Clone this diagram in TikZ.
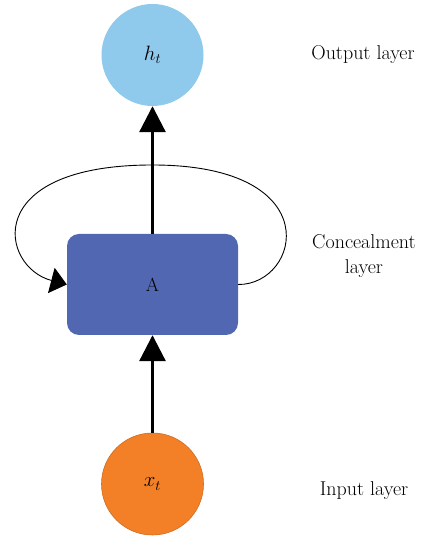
\documentclass[tikz,border=0pt]{standalone}
\usepackage{fontspec}
\usepackage{amsmath}
\usetikzlibrary{arrows.meta}
\definecolor{outblue}{RGB}{143,201,235}
\definecolor{boxblue}{RGB}{81,103,178}
\definecolor{inorange}{RGB}{243,128,38}

\begin{document}
\begin{tikzpicture}[x=1pt,y=1pt,
  unit/.style={circle,minimum size=102pt,inner sep=0pt,font=\fontsize{20}{24}\selectfont},
  lbl/.style={align=center,font=\fontsize{20}{25}\selectfont},
  bigtip/.style={-{Triangle[length=26pt,width=26pt]}}]
\useasboundingbox (0,0) rectangle (423,537);
\node(ht)[unit,fill=outblue] at (152.5,482){$h_{t}$};
\node(hidden)[rectangle,rounded corners=12pt,fill=boxblue,minimum width=171pt,minimum height=101pt,font=\fontsize{19}{22}\selectfont] at (152.5,252.5){A};
\node(xt)[unit,fill=inorange,draw=inorange!85!black,line width=0.6pt] at (152.5,53){$x_{t}$};
\node(outlbl)[lbl] at (363,482){Output layer};
\node(hidlbl)[lbl] at (364,281){Concealment\\layer};
\node(inlbl)[lbl] at (364,46){Input layer};
\path[draw,line width=3pt,bigtip] (hidden) -- (ht);
\path[draw,line width=3pt,bigtip] (xt) -- (hidden);
\path[draw,line width=0.9pt,-{Triangle[length=16pt,width=26pt]}] (hidden.east) .. controls (300,252) and (330,372) .. (152.5,372) .. controls (-20,372) and (0,270) .. (hidden.west);
\end{tikzpicture}
\end{document}
